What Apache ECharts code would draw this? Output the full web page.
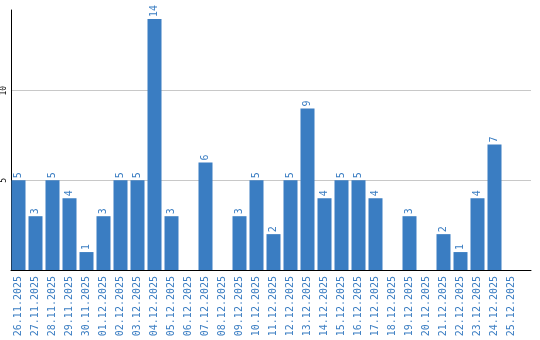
<!DOCTYPE html>
<html><head><meta charset="utf-8">
<script src="https://cdn.jsdelivr.net/npm/echarts@6/dist/echarts.min.js"></script>
<style>html,body{margin:0;padding:0;background:#fff}#c{width:540px;height:340px}</style>
</head><body><div id="c"></div>
<script>
const categories = ['26.11.2025','27.11.2025','28.11.2025','29.11.2025','30.11.2025','01.12.2025','02.12.2025','03.12.2025','04.12.2025','05.12.2025','06.12.2025','07.12.2025','08.12.2025','09.12.2025','10.12.2025','11.12.2025','12.12.2025','13.12.2025','14.12.2025','15.12.2025','16.12.2025','17.12.2025','18.12.2025','19.12.2025','20.12.2025','21.12.2025','22.12.2025','23.12.2025','24.12.2025','25.12.2025'];
const values = [5,3,5,4,1,3,5,5,14,3,0,6,0,3,5,2,5,9,4,5,5,4,0,3,0,2,1,4,7,0];
const yTicks = [5,10];

const blue = '#3a7dc2';
const font = 'DejaVu Sans Mono';
const chart = echarts.init(document.getElementById('c'));
chart.setOption({
  animation:false,
  grid:[
    {left:10, top:10, width:510, height:260},
    {left:10, top:10, width:521, height:260}
  ],
  xAxis:[
    {type:'category', gridIndex:0, data:categories, axisLine:{show:false}, axisTick:{show:false},
     axisLabel:{rotate:90, interval:0, margin:6, color:blue, fontFamily:font, fontSize:10}},
    {type:'value', gridIndex:1, min:0, max:1, axisLine:{show:true, lineStyle:{color:'#000', width:1}},
     axisTick:{show:false}, axisLabel:{show:false}, splitLine:{show:false}}
  ],
  yAxis:[
    {type:'value', gridIndex:0, min:0, max:14.5, interval:5, axisLine:{show:false}, axisTick:{show:false},
     axisLabel:{show:false}, splitLine:{show:false}},
    {type:'value', gridIndex:1, min:0, max:14.5, interval:5,
     axisLine:{show:true, lineStyle:{color:'#000', width:1}}, axisTick:{show:false},
     axisLabel:{rotate:90, margin:3, color:'#000', fontFamily:font, fontSize:8,
       formatter:v => yTicks.includes(v) ? String(v) : ''},
     splitLine:{show:true, showMaxLine:false, showMinLine:false, lineStyle:{color:'#c8c8c8', width:1}}}
  ],
  series:[{
    type:'bar', xAxisIndex:0, yAxisIndex:0, data:values, barWidth:14,
    itemStyle:{color:blue},
    label:{show:true, position:'top', rotate:90, align:'left', verticalAlign:'middle', distance:2,
      color:blue, fontFamily:font, fontSize:10, formatter:p => p.value ? String(p.value) : ''}
  }]
});
</script></body></html>
